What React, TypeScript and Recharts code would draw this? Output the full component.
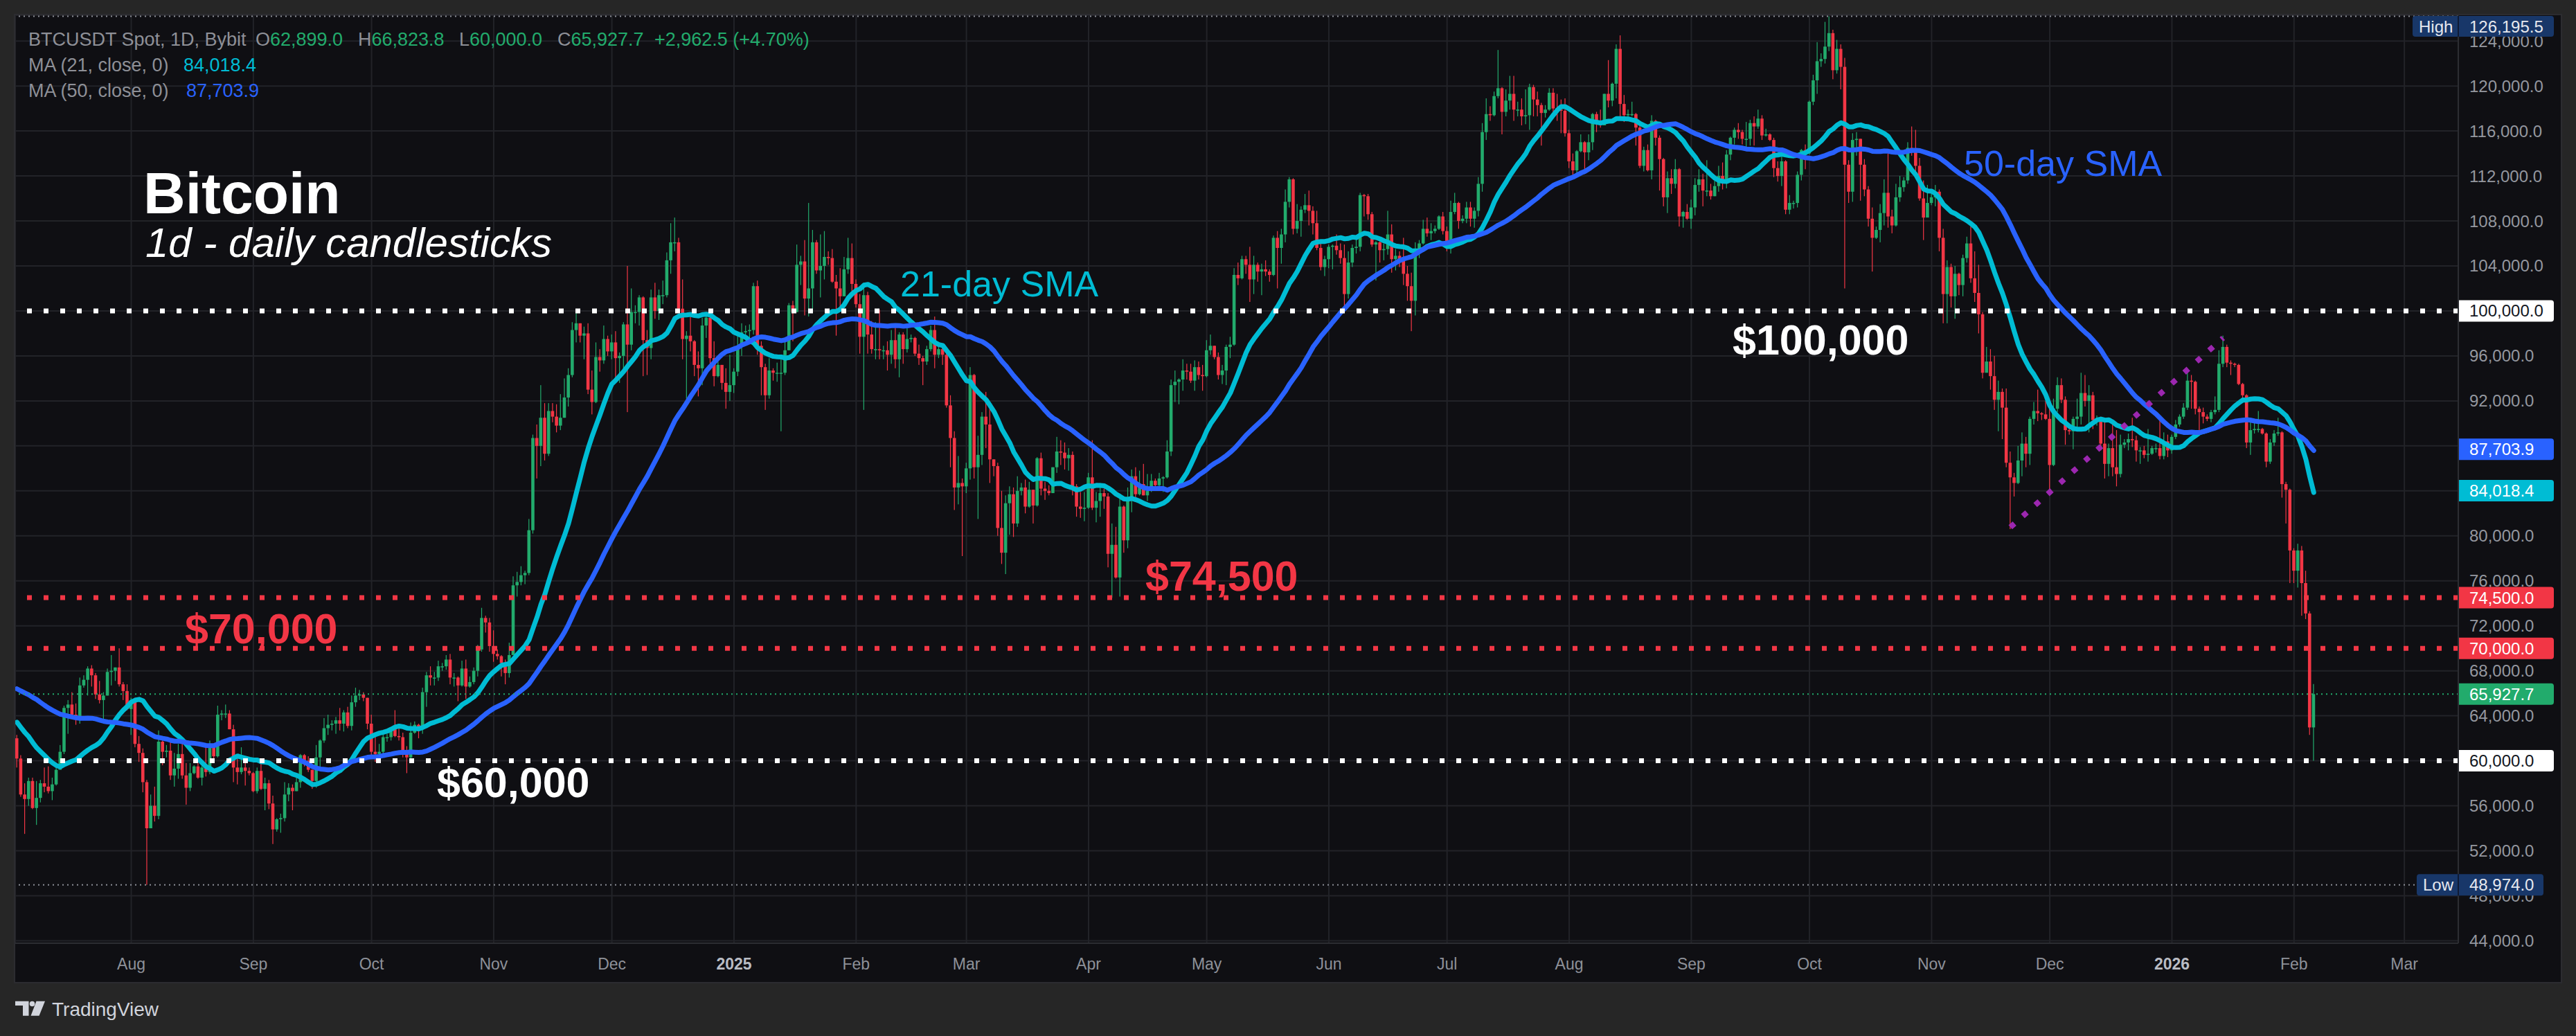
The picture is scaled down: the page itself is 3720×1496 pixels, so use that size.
import React from 'react'
import {
  ComposedChart,
  Bar,
  Line,
  XAxis,
  YAxis,
  CartesianGrid,
  ReferenceLine,
} from 'recharts'

// ---- data (prices in thousands of USDT, daily, Bybit BTCUSDT spot) ----

const FIRST_DATE = '2024-07-03'

// closes 2024-05-15 .. 2024-07-02, only used as look-back for the moving averages
const warmupCloses = [
  66.2, 65.2, 67.0, 67.0, 66.2, 71.4, 70.1, 69.1, 67.9, 68.5, 69.3, 68.5, 69.4, 68.3, 67.6, 68.4, 67.5,
  67.7, 67.8, 68.8, 70.6, 71.1, 70.8, 69.3, 69.3, 69.6, 69.5, 67.3, 68.2, 66.8, 66.0, 66.2, 66.6, 66.5,
  65.2, 64.9, 64.8, 64.1, 64.2, 63.2, 60.3, 61.8, 60.9, 61.6, 60.3, 60.9, 62.7,
  62.8, 62.0,
]

const closes = [
  // 2024 Jul (from 3rd)
  60.2, 57.0, 56.6, 58.2, 55.8, 56.7, 58.0, 57.7, 57.3, 57.9, 59.2, 60.8, 64.7, 65.0, 64.1, 63.9, 66.7, 67.2, 68.2, 67.6, 65.9, 65.4, 65.8, 67.9, 68.0, 68.3, 66.8, 66.2, 64.6,
  // Aug
  65.4, 61.5, 60.7, 58.1, 54.0, 56.0, 55.1, 61.7, 60.8, 60.9, 58.7, 59.3, 60.6, 58.7, 57.6, 58.9, 59.5, 58.5, 59.4, 59.0, 61.2, 60.4, 64.1, 64.2, 64.2, 62.8, 59.4, 59.0, 59.4, 59.1, 58.9,
  // Sep
  57.3, 59.1, 57.5, 58.0, 56.2, 53.9, 54.8, 54.9, 57.0, 57.6, 57.3, 58.1, 60.5, 60.0, 59.2, 58.2, 60.3, 61.8, 62.9, 63.2, 63.3, 63.6, 63.3, 64.3, 63.1, 65.2, 65.8, 65.9, 65.6, 63.3,
  // Oct
  60.8, 60.6, 60.8, 62.1, 62.1, 62.8, 62.2, 62.1, 60.6, 60.3, 62.5, 63.2, 62.9, 66.1, 67.6, 67.4, 67.4, 68.4, 68.4, 69.0, 67.4, 67.4, 66.7, 68.2, 66.6, 67.0, 68.0, 69.9, 72.7, 72.3, 70.2,
  // Nov
  69.5, 69.3, 68.7, 67.8, 69.4, 75.6, 75.9, 76.5, 76.7, 80.5, 88.7, 88.0, 90.5, 87.3, 91.1, 90.6, 89.8, 90.5, 92.3, 94.3, 98.3, 98.9, 97.8, 98.0, 93.0, 91.9, 95.9, 95.6, 97.5, 96.4,
  // Dec
  97.2, 95.8, 96.0, 98.8, 97.0, 99.9, 99.9, 101.2, 97.4, 96.7, 101.2, 100.0, 101.4, 101.4, 104.5, 106.1, 106.1, 100.2, 97.5, 97.8, 97.3, 95.2, 94.9, 98.7, 99.4, 95.8, 94.2, 95.2, 93.6, 92.8, 93.4,
  // 2025 Jan
  94.6, 96.9, 98.1, 98.2, 98.3, 102.2, 96.9, 95.0, 92.5, 94.7, 94.5, 94.5, 94.5, 96.5, 100.5, 99.9, 104.1, 104.4, 101.1, 102.0, 106.1, 103.6, 104.0, 104.8, 104.7, 102.6, 102.0, 101.3, 103.7, 104.7, 102.4,
  // Feb
  100.6, 97.7, 101.4, 97.9, 96.6, 96.6, 96.5, 96.5, 96.1, 97.4, 95.7, 97.9, 96.6, 97.5, 97.6, 96.2, 95.8, 95.5, 96.6, 98.3, 96.1, 96.6, 96.1, 91.6, 88.7, 84.3, 84.7, 84.4,
  // Mar
  86.0, 94.3, 86.1, 87.2, 90.6, 89.9, 86.8, 86.2, 80.7, 78.5, 82.9, 83.7, 81.1, 84.0, 84.3, 82.6, 84.1, 82.7, 86.9, 84.2, 84.0, 83.8, 86.1, 87.5, 87.4, 86.9, 87.2, 84.4, 82.6, 82.4, 82.5,
  // Apr
  85.2, 82.5, 83.1, 83.8, 83.5, 78.4, 79.2, 76.3, 82.6, 79.6, 83.4, 85.3, 83.7, 84.6, 83.6, 84.0, 84.9, 84.5, 85.1, 85.2, 87.5, 93.4, 93.7, 93.9, 94.7, 94.6, 93.8, 95.0, 94.3, 94.2,
  // May
  96.5, 96.9, 95.9, 94.3, 94.7, 96.8, 97.0, 103.2, 102.9, 104.6, 104.1, 102.8, 104.1, 103.5, 103.7, 103.5, 103.2, 106.5, 105.6, 106.8, 109.7, 111.7, 107.3, 108.0, 109.0, 109.4, 108.9, 107.8, 105.6, 103.9, 104.6,
  // Jun
  105.7, 105.8, 105.4, 104.7, 101.5, 104.3, 105.6, 105.7, 110.3, 110.2, 108.6, 105.9, 106.1, 105.4, 105.5, 106.8, 104.6, 104.9, 104.6, 103.3, 102.2, 100.9, 105.5, 106.0, 107.3, 106.9, 107.1, 107.3, 108.4, 107.1,
  // Jul
  105.7, 108.8, 109.6, 108.0, 108.2, 109.2, 108.2, 108.9, 111.3, 115.9, 117.5, 117.4, 119.1, 119.8, 117.7, 118.7, 119.3, 117.9, 117.9, 117.3, 117.4, 119.9, 118.8, 118.3, 117.6, 117.9, 119.4, 118.0, 117.9, 117.8, 115.8,
  // Aug
  113.3, 112.5, 114.2, 115.0, 114.1, 115.0, 117.5, 116.7, 116.5, 119.3, 118.7, 120.2, 123.3, 118.4, 117.4, 117.5, 117.5, 116.3, 112.9, 114.3, 112.5, 116.9, 115.4, 113.5, 110.1, 111.8, 111.3, 112.6, 108.4, 108.8, 108.2,
  // Sep
  109.2, 111.2, 111.7, 110.7, 110.7, 110.2, 111.1, 112.0, 111.5, 113.9, 115.4, 116.1, 115.9, 115.3, 115.3, 116.7, 116.4, 117.1, 115.6, 115.7, 115.2, 112.7, 112.0, 113.3, 109.0, 109.6, 109.6, 112.1, 114.3, 114.0,
  // Oct
  118.6, 120.5, 122.2, 122.4, 123.5, 124.7, 121.4, 123.3, 121.7, 113.0, 110.6, 115.2, 115.3, 113.0, 110.8, 108.2, 106.5, 107.2, 108.7, 110.5, 108.4, 107.6, 110.1, 111.0, 111.6, 114.5, 114.1, 112.9, 110.0, 108.3, 109.6,
  // Nov
  110.1, 110.6, 106.5, 101.5, 103.9, 101.3, 103.3, 102.3, 104.7, 106.0, 102.9, 101.6, 99.7, 94.5, 95.5, 94.2, 92.1, 92.8, 91.4, 86.5, 85.2, 84.7, 86.7, 88.2, 87.3, 90.4, 91.1, 90.9, 90.8, 90.4,
  // Dec
  86.3, 91.3, 93.4, 92.1, 89.4, 89.3, 90.4, 90.6, 92.7, 92.0, 92.5, 90.3, 90.3, 88.2, 86.4, 87.8, 86.1, 85.5, 88.1, 88.3, 88.6, 88.5, 87.6, 87.6, 87.2, 87.3, 87.8, 87.8, 87.1, 88.4, 87.6,
  // 2026 Jan
  88.8, 89.9, 90.6, 91.4, 93.8, 93.7, 91.3, 91.0, 90.6, 90.4, 91.0, 91.2, 95.3, 96.8, 95.4, 95.3, 95.2, 93.5, 92.5, 88.3, 89.4, 89.5, 89.5, 89.1, 86.6, 88.3, 89.1, 89.2, 84.6, 84.1, 78.7,
  // Feb
  76.9, 78.7, 75.8, 73.1, 62.9652, 65.9277,
]

const highs = [
  62.3, 60.5, 58.0, 58.5, 58.5, 58.2, 58.3, 59.4, 59.5, 58.5, 59.8, 61.4, 64.9, 65.4, 66.1, 65.1, 67.4, 67.6, 68.4, 68.5, 67.8, 67.1, 66.1, 68.2, 69.4, 68.3, 70.0, 67.0, 66.8,
  65.6, 65.6, 62.2, 61.1, 58.3, 57.0, 57.7, 62.7, 61.8, 61.4, 61.8, 60.7, 61.5, 61.8, 59.8, 59.8, 59.6, 60.2, 59.6, 61.4, 61.8, 61.4, 64.9, 64.5, 65.0, 64.5, 63.2, 60.2, 61.2, 59.9, 59.4,
  59.0, 59.4, 59.8, 58.5, 58.3, 56.9, 54.9, 55.3, 58.1, 58.0, 57.9, 58.6, 60.6, 60.6, 60.4, 59.2, 61.4, 61.9, 63.8, 64.1, 63.6, 63.9, 64.7, 64.5, 64.8, 65.8, 66.5, 66.3, 66.1, 65.6,
  64.1, 62.4, 61.5, 62.5, 62.4, 63.0, 64.5, 63.2, 62.5, 61.3, 63.4, 63.5, 63.3, 66.5, 67.9, 68.4, 67.9, 68.9, 68.7, 69.4, 69.5, 67.8, 67.5, 68.9, 69.0, 67.5, 68.3, 70.3, 73.6, 72.9, 72.7,
  71.6, 69.9, 69.4, 69.0, 70.5, 76.4, 76.8, 77.3, 76.9, 81.5, 89.0, 89.9, 93.4, 91.8, 91.8, 91.8, 91.7, 92.6, 94.0, 94.9, 99.0, 99.8, 98.9, 98.6, 98.9, 94.7, 97.2, 96.6, 98.7, 97.8,
  97.9, 98.2, 96.3, 99.0, 104.0, 102.0, 100.5, 101.4, 101.3, 98.3, 101.9, 102.5, 101.9, 102.7, 105.2, 107.8, 108.3, 106.5, 102.8, 98.2, 99.5, 97.4, 96.4, 99.4, 99.9, 99.9, 97.3, 95.5, 95.2, 94.9, 96.1,
  94.9, 97.8, 98.9, 98.7, 98.8, 102.5, 102.7, 97.3, 95.3, 95.8, 94.9, 95.4, 95.9, 97.4, 100.7, 100.9, 105.9, 104.9, 106.3, 109.6, 107.2, 106.3, 106.8, 107.1, 105.3, 105.5, 103.2, 103.8, 104.8, 106.5, 106.0,
  102.8, 101.5, 102.5, 101.7, 99.1, 99.0, 100.1, 96.9, 97.3, 98.3, 98.5, 98.1, 98.1, 98.8, 97.9, 97.7, 97.0, 96.0, 96.9, 98.7, 99.5, 96.9, 96.7, 96.5, 92.5, 89.3, 87.1, 85.1,
  86.5, 95.0, 94.4, 88.9, 91.0, 92.8, 91.3, 86.8, 86.5, 84.0, 83.6, 84.4, 84.3, 85.3, 84.7, 85.0, 84.8, 84.1, 87.0, 87.4, 84.8, 84.5, 86.1, 88.8, 88.5, 88.3, 87.8, 87.5, 84.6, 83.9, 83.9,
  85.6, 88.5, 83.9, 84.7, 84.2, 83.8, 81.1, 80.8, 83.5, 82.7, 84.3, 85.9, 86.1, 85.8, 86.4, 85.5, 85.5, 85.1, 85.6, 85.3, 88.5, 93.9, 94.7, 94.0, 95.7, 95.3, 95.3, 95.6, 95.5, 95.2,
  97.4, 97.9, 96.9, 96.3, 95.2, 97.0, 97.7, 103.8, 104.3, 104.9, 104.9, 105.7, 104.9, 104.3, 104.2, 104.5, 103.7, 106.7, 107.1, 107.3, 110.8, 111.9, 111.8, 109.5, 109.3, 110.4, 110.7, 109.3, 108.9, 106.3, 104.9,
  105.9, 105.9, 106.8, 106.0, 105.9, 105.3, 105.9, 106.4, 110.5, 110.4, 110.4, 108.8, 106.2, 106.2, 106.0, 108.9, 107.7, 105.5, 105.3, 106.5, 104.0, 103.4, 106.1, 106.3, 108.1, 108.3, 107.8, 107.6, 108.5, 108.8,
  107.5, 109.8, 110.5, 109.7, 108.5, 109.7, 109.7, 109.2, 111.9, 116.7, 118.9, 118.2, 119.5, 123.2, 119.9, 119.7, 120.9, 120.9, 118.6, 118.9, 119.7, 120.2, 120.1, 119.5, 118.5, 118.3, 119.8, 119.8, 119.3, 118.8, 118.9,
  116.1, 114.0, 114.3, 115.7, 115.1, 115.7, 117.6, 117.7, 117.9, 119.3, 122.3, 120.3, 123.7, 124.5, 119.2, 117.9, 118.6, 117.6, 116.8, 114.6, 114.8, 117.4, 117.0, 115.6, 113.6, 112.4, 112.6, 113.5, 112.7, 108.9, 109.5,
  109.9, 111.8, 112.6, 112.2, 113.4, 111.3, 111.6, 112.9, 113.2, 114.3, 115.5, 116.3, 116.7, 116.1, 116.8, 117.0, 117.3, 117.9, 117.4, 116.2, 115.8, 115.4, 113.3, 114.0, 113.4, 110.3, 109.8, 112.4, 114.4, 114.8,
  118.7, 121.0, 123.9, 122.9, 125.7, 126.1955, 125.0, 124.1, 123.7, 122.5, 113.4, 115.8, 115.9, 115.3, 113.5, 111.1, 109.2, 107.5, 109.5, 111.7, 114.0, 109.0, 111.3, 112.0, 111.9, 115.0, 116.4, 116.1, 113.6, 111.6, 111.2,
  110.6, 111.2, 110.8, 107.3, 104.5, 104.2, 104.0, 103.4, 105.0, 106.6, 107.5, 105.3, 104.1, 99.9, 96.8, 96.6, 96.0, 93.8, 93.1, 93.1, 87.5, 85.6, 88.0, 89.2, 88.8, 90.6, 91.9, 93.0, 91.0, 92.0,
  91.4, 92.2, 94.1, 94.0, 92.4, 89.8, 90.6, 92.2, 94.5, 94.3, 93.4, 92.8, 90.7, 90.6, 90.1, 88.2, 90.2, 89.4, 89.0, 88.6, 89.1, 90.5, 88.9, 87.9, 88.0, 89.5, 88.0, 88.2, 90.4, 89.2, 89.0,
  89.0, 90.3, 90.8, 91.8, 94.6, 94.3, 93.8, 91.5, 91.4, 90.8, 91.2, 92.4, 96.5, 97.8, 97.0, 95.6, 95.4, 95.3, 93.6, 92.6, 90.5, 90.2, 91.1, 89.6, 89.2, 88.6, 89.4, 90.5, 89.3, 84.8, 84.2,
  78.9, 79.3, 79.1, 76.9, 73.3, 66.8238,
]

const lows = [
  59.4, 56.8, 53.5, 56.0, 55.7, 54.3, 56.3, 57.2, 57.1, 56.5, 57.8, 59.3, 60.6, 62.4, 63.9, 63.2, 63.3, 66.5, 65.8, 66.6, 65.5, 65.1, 63.5, 65.8, 66.7, 67.1, 66.6, 65.4, 64.5,
  62.3, 61.2, 59.9, 57.2, 48.974, 54.0, 54.6, 54.8, 59.6, 60.3, 58.3, 57.7, 58.4, 58.4, 56.1, 57.3, 58.8, 58.4, 57.8, 58.6, 58.8, 59.8, 60.3, 63.6, 63.8, 62.8, 58.1, 57.9, 58.8, 57.8, 58.7,
  57.2, 57.1, 57.4, 55.6, 55.7, 52.6, 53.7, 53.6, 54.6, 56.4, 55.6, 57.3, 57.6, 59.5, 59.0, 57.5, 57.6, 59.2, 61.6, 62.3, 62.7, 62.4, 62.7, 62.6, 62.9, 62.7, 64.8, 65.4, 65.3, 62.8,
  60.2, 59.9, 59.8, 60.5, 61.7, 61.8, 62.1, 61.8, 60.3, 58.9, 60.0, 62.4, 62.0, 62.4, 64.8, 66.7, 66.7, 67.1, 68.0, 68.1, 66.8, 66.6, 65.3, 66.6, 65.5, 66.5, 66.8, 67.5, 69.7, 71.4, 69.7,
  68.8, 69.0, 67.5, 66.8, 67.4, 69.4, 74.6, 75.6, 75.7, 76.5, 80.2, 85.1, 86.2, 86.7, 87.1, 90.1, 89.2, 89.4, 90.5, 91.5, 94.1, 97.2, 97.2, 95.7, 92.6, 90.8, 91.8, 94.6, 95.3, 96.0,
  95.7, 94.0, 93.6, 94.7, 91.0, 96.5, 98.9, 98.7, 94.2, 94.3, 95.7, 99.3, 99.2, 100.6, 101.2, 103.3, 105.3, 100.0, 95.7, 92.2, 96.4, 94.2, 92.4, 93.4, 97.6, 95.2, 93.3, 94.1, 93.0, 91.3, 92.0,
  92.7, 94.2, 96.0, 97.5, 97.3, 97.9, 96.1, 92.5, 91.2, 92.2, 93.8, 93.7, 89.3, 94.3, 96.5, 97.3, 99.9, 102.3, 99.6, 99.5, 100.1, 103.3, 101.2, 102.8, 104.1, 102.5, 97.8, 100.3, 101.3, 103.3, 101.5,
  100.3, 96.2, 91.2, 96.2, 96.2, 95.7, 95.7, 95.7, 94.7, 95.3, 94.9, 94.1, 95.3, 96.3, 97.2, 96.0, 95.2, 93.4, 95.2, 96.4, 94.9, 95.8, 95.2, 91.4, 86.1, 82.3, 82.8, 78.2,
  83.8, 85.0, 85.1, 81.5, 86.3, 87.8, 84.7, 85.3, 80.0, 77.5, 76.6, 80.1, 79.9, 80.8, 83.6, 82.0, 82.5, 81.1, 82.6, 83.6, 83.2, 83.6, 83.8, 85.6, 86.3, 85.9, 85.8, 83.6, 81.7, 81.6, 81.3,
  82.4, 82.3, 81.2, 81.7, 82.4, 77.2, 74.5, 76.2, 74.6, 78.5, 78.9, 82.1, 83.0, 83.6, 83.6, 83.1, 83.9, 84.2, 84.3, 83.9, 85.1, 87.1, 91.9, 91.7, 92.9, 93.9, 93.6, 92.9, 93.9, 92.9,
  94.1, 96.1, 95.7, 93.9, 93.5, 93.4, 95.8, 96.9, 102.3, 102.8, 103.3, 100.8, 101.5, 102.6, 101.4, 103.1, 102.6, 103.1, 102.0, 104.2, 106.1, 109.2, 106.8, 106.9, 106.6, 108.7, 107.6, 106.8, 105.4, 103.6, 103.1,
  103.8, 103.7, 105.0, 104.2, 100.4, 101.1, 103.9, 105.1, 105.3, 108.4, 108.1, 105.7, 102.7, 104.3, 104.5, 105.0, 103.4, 103.6, 103.9, 102.3, 100.9, 98.2, 99.6, 104.7, 105.9, 106.6, 106.3, 106.9, 107.2, 106.8,
  105.3, 105.1, 108.6, 107.3, 107.8, 107.8, 107.5, 107.4, 108.4, 110.6, 115.2, 116.9, 117.3, 118.9, 115.7, 117.3, 117.9, 116.9, 117.3, 116.5, 116.6, 116.1, 117.3, 117.3, 114.7, 117.2, 117.8, 117.4, 116.9, 115.8, 115.5,
  112.7, 112.0, 112.2, 114.1, 112.6, 113.4, 114.3, 115.9, 116.3, 116.5, 118.1, 118.2, 118.9, 117.2, 116.8, 117.2, 117.3, 114.7, 112.7, 112.4, 112.4, 111.7, 114.7, 110.7, 109.3, 108.7, 110.4, 110.9, 107.5, 107.4, 108.1,
  107.3, 108.5, 110.6, 109.3, 110.2, 109.9, 110.2, 110.6, 110.8, 110.9, 113.4, 114.8, 115.3, 114.8, 114.4, 114.7, 114.7, 116.2, 115.2, 115.5, 115.1, 111.9, 111.5, 111.1, 108.6, 108.6, 109.1, 109.2, 111.6, 112.6,
  113.9, 118.3, 119.3, 121.7, 122.0, 123.1, 120.6, 121.1, 119.7, 102.0, 109.6, 109.7, 113.8, 109.8, 110.2, 107.5, 103.5, 106.4, 106.1, 107.6, 107.4, 106.9, 107.5, 109.7, 110.6, 111.3, 113.8, 112.2, 109.8, 106.3, 108.6,
  109.4, 109.3, 105.3, 98.9, 98.9, 100.3, 99.3, 101.4, 101.3, 104.3, 102.5, 100.8, 98.0, 94.0, 94.6, 93.0, 91.2, 89.3, 88.6, 86.1, 80.6, 83.5, 84.6, 85.3, 86.1, 86.3, 89.9, 90.2, 90.3, 90.3,
  83.8, 86.2, 91.0, 91.8, 88.1, 89.0, 87.7, 89.6, 89.9, 91.5, 89.2, 89.5, 89.8, 87.6, 85.1, 85.3, 85.3, 84.4, 85.2, 87.8, 87.6, 87.9, 86.6, 86.4, 86.9, 86.6, 87.2, 87.4, 86.8, 86.8, 87.0,
  87.3, 88.6, 89.7, 90.4, 91.2, 91.3, 90.8, 89.2, 90.0, 90.2, 90.1, 90.8, 91.0, 95.0, 95.0, 94.3, 95.0, 93.4, 92.0, 87.8, 87.2, 89.1, 89.2, 89.0, 86.1, 86.4, 88.0, 88.9, 83.4, 81.1, 75.8,
  75.8, 75.4, 72.9, 72.6, 62.3, 60.0,
]

const monthTickDates = [
  '2024-08-01', '2024-09-01', '2024-10-01', '2024-11-01', '2024-12-01', '2025-01-01',
  '2025-02-01', '2025-03-01', '2025-04-01', '2025-05-01', '2025-06-01', '2025-07-01',
  '2025-08-01', '2025-09-01', '2025-10-01', '2025-11-01', '2025-12-01', '2026-01-01',
  '2026-02-01', '2026-03-01',
]
const monthTickLabels = [
  'Aug', 'Sep', 'Oct', 'Nov', 'Dec', '2025', 'Feb', 'Mar', 'Apr', 'May', 'Jun', 'Jul',
  'Aug', 'Sep', 'Oct', 'Nov', 'Dec', '2026', 'Feb', 'Mar',
]
const priceTicks = [
  44000, 48000, 52000, 56000, 60000, 64000, 68000, 72000, 76000, 80000, 84000,
  88000, 92000, 96000, 100000, 104000, 108000, 112000, 116000, 120000, 124000,
]

const levelPrices = [100000, 74500, 70000, 60000]
const levelColors = ['#ffffff', '#f23645', '#f23645', '#ffffff']

const trendDates = ['2025-11-21', '2026-01-14']
const trendPrices = [80770, 97600]

const highValue = 126195.5
const lowValue = 48974.0
const lastClose = 65927.7
const sma21Last = 84018.4
const sma50Last = 87703.9

const headerOHLC = [
  ['O', '62,899.0'],
  ['H', '66,823.8'],
  ['L', '60,000.0'],
  ['C', '65,927.7'],
]
const headerChange = '+2,962.5 (+4.70%)'

// ---- layout ----
const UP = '#22ab6c'
const DOWN = '#f23645'
const CYAN = '#00bcd4'
const BLUE = '#2962ff'
const LEGEND_GRAY = '#8e9097'
const FONT = '"Liberation Sans", Arial, sans-serif'

const CHART_W = 3676
const CHART_H = 1396
const AXIS_W = 148
const AXIS_H = 56
const PLOT_LEFT = 22
const PLOT_TOP = 22
const PLOT_H = CHART_H - AXIS_H
const X_MIN = -182.45
const X_MAX = 437.69
const Y_MIN = 43780
const Y_MAX = 126290

const dayOf = (iso: string) => (Date.parse(iso) - Date.parse('2025-01-01')) / 86400000
const monthTickDays = monthTickDates.map(dayOf)
const fmt = (v: number) =>
  v.toLocaleString('en-US', { minimumFractionDigits: 1, maximumFractionDigits: 1 })
const yPx = (v: number) => PLOT_TOP + ((Y_MAX - v) / (Y_MAX - Y_MIN)) * PLOT_H

const W = warmupCloses.length
const allCloses = [...warmupCloses, ...closes]
const movingAvg = (end: number, n: number) => {
  let s = 0
  for (let k = end - n + 1; k <= end; k++) s += allCloses[k]
  return (s / n) * 1000
}
const d0 = dayOf(FIRST_DATE)
const data = closes.map((c, i) => ({
  day: d0 + i,
  open: allCloses[W + i - 1] * 1000,
  close: c * 1000,
  high: highs[i] * 1000,
  low: lows[i] * 1000,
  sma21: movingAvg(W + i, 21),
  sma50: movingAvg(W + i, 50),
}))

function Candle(props: any) {
  const { x, y, width, height } = props
  const p = props.payload ?? props
  if (x == null || y == null || p == null) return null
  const top = Math.min(y, y + height)
  const h = Math.abs(height)
  const color = p.close >= p.open ? UP : DOWN
  const span = p.high - p.low
  const toY = (v: number) => (span > 0 ? top + ((p.high - v) / span) * h : top)
  const cx = x + width / 2
  const bTop = toY(Math.max(p.open, p.close))
  const bBot = toY(Math.min(p.open, p.close))
  return (
    <g>
      <rect x={cx - 0.6} y={top} width={1.2} height={Math.max(h, 1)} fill={color} />
      <rect x={cx - 2.3} y={bTop} width={4.6} height={Math.max(bBot - bTop, 1.5)} fill={color} />
    </g>
  )
}

function XTick(props: any) {
  const { x, y, payload } = props
  const idx = monthTickDays.findIndex((d) => Math.abs(d - payload.value) < 0.01)
  const label = monthTickLabels[idx] ?? ''
  const isYear = /^\d{4}$/.test(label)
  return (
    <text
      x={x}
      y={y + 30}
      textAnchor="middle"
      dominantBaseline="central"
      fontFamily={FONT}
      fontSize={23}
      fontWeight={isYear ? 700 : 400}
      fill={isYear ? '#b9bcc4' : '#8e9199'}
    >
      {label}
    </text>
  )
}

function YTick(props: any) {
  const { x, y, payload } = props
  return (
    <text
      x={x + 16}
      y={y}
      textAnchor="start"
      dominantBaseline="central"
      fontFamily={FONT}
      fontSize={24}
      fill="#94979f"
    >
      {fmt(payload.value)}
    </text>
  )
}

const rightRounded = (x: number, y: number, w: number, h: number, r: number) =>
  `M${x},${y} H${x + w - r} Q${x + w},${y} ${x + w},${y + r} V${y + h - r} Q${x + w},${y + h} ${x + w - r},${y + h} H${x} Z`

const tagValues = [100000, sma50Last, sma21Last, 74500, 70000, lastClose, 60000]
const tagColors = ['#ffffff', BLUE, CYAN, '#f23645', '#f23645', UP, '#ffffff']

function Overlay() {
  const tagX = PLOT_LEFT + CHART_W - AXIS_W + 1
  const ly = yPx(lowValue)
  return (
    <svg
      width={3720}
      height={1496}
      style={{ position: 'absolute', left: 0, top: 0, pointerEvents: 'none' }}
    >
      {/* legend */}
      <g fontFamily={FONT} fontSize={27}>
        <text x={41} y={66} fill={LEGEND_GRAY}>BTCUSDT Spot, 1D, Bybit</text>
        {headerOHLC.map(([k, v], i) => (
          <text key={k} x={[369, 517, 663, 805][i]} y={66} fill={LEGEND_GRAY}>
            {k}
            <tspan fill={UP}>{v}</tspan>
          </text>
        ))}
        <text x={945} y={66} fill={UP}>{headerChange}</text>
        <text x={41} y={103} fill={LEGEND_GRAY}>MA (21, close, 0)</text>
        <text x={265} y={103} fill={CYAN}>{fmt(sma21Last)}</text>
        <text x={41} y={140} fill={LEGEND_GRAY}>MA (50, close, 0)</text>
        <text x={269} y={140} fill={BLUE}>{fmt(sma50Last)}</text>
      </g>

      {/* titles and annotations */}
      <g fontFamily={FONT}>
        <text x={207} y={308} fontSize={84} fontWeight={700} fill="#ffffff">Bitcoin</text>
        <text x={210} y={371} fontSize={60} fontStyle="italic" fill="#ffffff">1d - daily candlesticks</text>
        <text x={1300} y={428} fontSize={52} fill={CYAN}>21-day SMA</text>
        <text x={2836} y={254} fontSize={52} fill={BLUE}>50-day SMA</text>
        <text x={2502} y={512} fontSize={61} fontWeight={700} fill="#ffffff">$100,000</text>
        <text x={1654} y={853} fontSize={61} fontWeight={700} fill="#f23645">$74,500</text>
        <text x={267} y={929} fontSize={61} fontWeight={700} fill="#f23645">$70,000</text>
        <text x={631} y={1151} fontSize={61} fontWeight={700} fill="#ffffff">$60,000</text>
      </g>

      {/* price axis tags */}
      <g fontFamily={FONT} fontSize={24}>
        {tagValues.map((v, i) => {
          const cy = yPx(v)
          const light = tagColors[i] === '#ffffff'
          return (
            <g key={i}>
              <path d={rightRounded(tagX, cy - 15.5, 137, 31, 4)} fill={tagColors[i]} />
              <text x={3566} y={cy} dominantBaseline="central" fill={light ? '#131722' : '#ffffff'}>
                {fmt(v)}
              </text>
            </g>
          )
        })}
        <rect x={3484} y={23} width={204} height={30} rx={4} fill="#183769" />
        <line x1={3550} x2={3550} y1={23} y2={53} stroke="#0f1a33" strokeWidth={2} />
        <text x={3493} y={38} dominantBaseline="central" fill="#e6e8ee">High</text>
        <text x={3566} y={38} dominantBaseline="central" fill="#e6e8ee">{fmt(highValue)}</text>
        <rect x={3490} y={ly - 15.5} width={183} height={31} rx={4} fill="#183769" />
        <line x1={3550} x2={3550} y1={ly - 15.5} y2={ly + 15.5} stroke="#0f1a33" strokeWidth={2} />
        <text x={3499} y={ly} dominantBaseline="central" fill="#e6e8ee">Low</text>
        <text x={3566} y={ly} dominantBaseline="central" fill="#e6e8ee">{fmt(lowValue)}</text>
      </g>

      {/* TradingView mark */}
      <g fill="#d1d4dc">
        <path d="M22,1445.7 H41.5 V1466.7 H33 V1452 H22 Z" />
        <circle cx={46.5} cy={1449.5} r={3.8} />
        <path d="M52.5,1445.7 H65 L56.5,1466.7 H44.5 Z" />
        <text x={75} y={1467} fontFamily={FONT} fontSize={28}>TradingView</text>
      </g>
    </svg>
  )
}

export default function App() {
  return (
    <div style={{ position: 'relative', width: 3720, height: 1496, background: '#262626', overflow: 'hidden' }}>
      <style>{'html,body{margin:0;padding:0;background:#262626;}'}</style>
      <div
        style={{
          position: 'absolute',
          left: 20,
          top: 20,
          width: CHART_W + 4,
          height: CHART_H + 4,
          border: '2px solid #2c2c30',
          boxSizing: 'border-box',
          background: '#0f0f13',
        }}
      >
        <ComposedChart
          width={CHART_W}
          height={CHART_H}
          data={data}
          margin={{ top: 0, right: 0, bottom: 0, left: 0 }}
        >
          <CartesianGrid stroke="#222328" strokeWidth={2} />
          <XAxis
            dataKey="day"
            type="number"
            domain={[X_MIN, X_MAX]}
            allowDataOverflow
            ticks={monthTickDays}
            interval={0}
            height={AXIS_H}
            tickSize={0}
            tickMargin={0}
            tickLine={false}
            axisLine={{ stroke: '#2c2d32', strokeWidth: 2 }}
            tick={<XTick />}
          />
          <YAxis
            orientation="right"
            type="number"
            domain={[Y_MIN, Y_MAX]}
            allowDataOverflow
            ticks={priceTicks}
            interval={0}
            width={AXIS_W}
            tickSize={0}
            tickMargin={0}
            tickLine={false}
            axisLine={{ stroke: '#2c2d32', strokeWidth: 2 }}
            tick={<YTick />}
          />
          <Bar
            dataKey={(d: any) => [d.low, d.high]}
            barSize={5}
            shape={Candle}
            isAnimationActive={false}
          />
          <Line
            dataKey="sma21"
            type="linear"
            stroke={CYAN}
            strokeWidth={7}
            strokeLinejoin="round"
            strokeLinecap="round"
            dot={false}
            activeDot={false}
            isAnimationActive={false}
          />
          <Line
            dataKey="sma50"
            type="linear"
            stroke={BLUE}
            strokeWidth={7}
            strokeLinejoin="round"
            strokeLinecap="round"
            dot={false}
            activeDot={false}
            isAnimationActive={false}
          />
          <ReferenceLine y={highValue} stroke="#8b8e96" strokeWidth={2} strokeDasharray="2 5" />
          <ReferenceLine y={lowValue} stroke="#8b8e96" strokeWidth={2} strokeDasharray="2 5" />
          <ReferenceLine y={lastClose} stroke={UP} strokeWidth={2} strokeDasharray="2 5" />
          {levelPrices.map((v, i) => (
            <ReferenceLine
              key={v}
              y={v}
              stroke={levelColors[i]}
              strokeWidth={7}
              strokeDasharray="7 17"
            />
          ))}
          <ReferenceLine
            segment={[
              { x: dayOf(trendDates[0]), y: trendPrices[0] },
              { x: dayOf(trendDates[1]), y: trendPrices[1] },
            ]}
            stroke="#9c27b0"
            strokeWidth={8}
            strokeDasharray="8 16"
          />
        </ComposedChart>
      </div>
      <Overlay />
    </div>
  )
}
